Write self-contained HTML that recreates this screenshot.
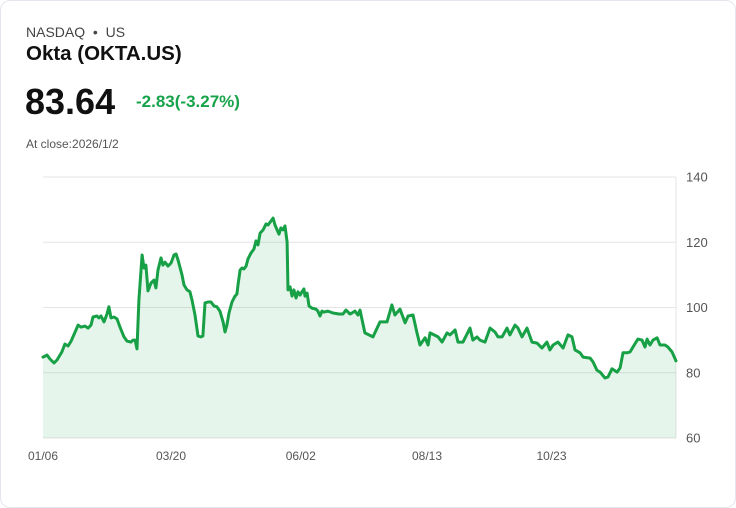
<!DOCTYPE html>
<html><head><meta charset="utf-8"><style>
body{margin:0;width:736px;height:508px;background:#fff;font-family:"Liberation Sans",sans-serif;overflow:hidden}
.card{position:absolute;left:0;top:0;width:734px;height:506px;border:1px solid #e3e6ec;border-radius:10px}
.t{position:absolute;white-space:nowrap}
</style></head><body>
<div class="card">
<div class="t" style="left:25px;top:23px;font-size:14px;color:#444">NASDAQ &nbsp;•&nbsp; US</div>
<div class="t" style="left:25px;top:41px;font-size:20.5px;font-weight:bold;color:#111">Okta (OKTA.US)</div>
<div class="t" style="left:24px;top:80px;font-size:36px;font-weight:bold;color:#111">83.64</div>
<div class="t" style="left:135px;top:91px;font-size:17px;font-weight:bold;color:#16a34a">-2.83(-3.27%)</div>
<div class="t" style="left:25px;top:136px;font-size:12px;color:#555">At close:2026/1/2</div>
<svg id="chart" width="736" height="508" style="position:absolute;left:-1px;top:-1px"></svg>
</div>
<script>
const days=[0,2.3,4,6.3,8,10.8,12.5,14.3,16,18.3,20,21.7,24,25.7,27.4,28.5,30.8,31.9,33.1,34.8,36.5,37.6,38.8,40.5,42.2,43.9,46.2,47.9,50.2,51.3,52.5,53.6,54.7,56.5,57.6,58.7,59.9,61.6,63.3,64.4,65.6,67.3,68.4,69.6,71.3,73,74.7,75.9,77,79.3,80.4,82.1,83.8,85,86.7,88.4,90.1,91.2,92.4,94.1,95.8,97.5,99.2,100.9,102.7,103.8,104.9,106.1,107.8,109.5,110.6,111.2,112.4,113.5,114.6,115.8,116.9,118.6,120.3,121.5,122.6,123.8,125.5,127.2,128.3,130,131.2,132.3,133.5,134.6,135.7,136.9,138,139.2,139.7,140.9,142,143.1,144.3,145.4,146.6,147.7,148.8,149.4,150.6,151.7,153.4,155.7,156.8,158,159.1,160.3,162.5,165.4,168.8,171.1,172.8,175.1,176.2,177.9,179.6,180.8,183.6,188.2,192.2,196.2,199,200.7,203.6,206.5,208.2,211,213.3,215,217.9,219.6,220.7,225.3,227.6,230.4,232.1,235,236.7,239.5,243.5,245.2,247.5,249.2,252.1,254.9,257.8,259.5,261.8,264.6,266.3,269.2,270.9,273.2,276,278.9,281.7,284.6,287.4,289.1,290.9,293.7,296.6,299.4,301.7,303.4,306.3,308,312,313.7,315.9,317.7,320.5,322.2,324.5,327.4,329.1,330.8,333.1,334.8,336.5,339.3,341.6,343.3,344.5,346.2,347.9,350.2,351.9,354.7,356.4,358.7,361];
const prices=[84.8,85.4,84.2,83,83.9,86.4,88.8,88.2,89.7,92.5,94.6,94,94.3,93.7,94.6,97.1,97.4,96.8,97.4,95.6,98,100.2,96.8,97.1,96.5,94,91,89.7,89.4,90,90,87.3,102.3,116.1,112.1,113,105.1,107.5,108.4,106,111.5,115.2,113,113.9,112.7,113.6,116.1,116.4,114.6,110,106.9,105.4,104.8,102.3,97.7,91.3,91,91.3,101.4,101.7,101.7,100.5,100.2,98.9,95.6,92.5,94.6,98.3,101.7,103.5,104.1,106.9,111.5,112.1,111.8,112.7,114.9,116.7,117.9,120.4,119.2,122.8,123.8,125.6,125.3,126.5,127.4,125.3,123.8,122.5,124.4,123.8,125,120.1,105.4,106.3,103.5,105.4,102.9,104.8,103.8,104.8,105.7,103.5,104.4,100.5,99.8,99.5,98.9,97.4,98.9,98.6,98.9,98.3,98,98,99.2,98,98.3,98.9,97.7,99.2,92.2,91,95.6,95.6,100.8,97.7,99.5,95.3,97.4,97.7,92.2,88.5,90.7,88.5,92.2,91,89.4,92.2,91.6,93.1,89.4,89.4,93.7,90,91,90,89.4,93.7,92.5,91,91,93.7,91.6,94.6,93.7,91,93.7,89.4,89.1,87.6,89.4,87,88.5,89.4,87.6,91.6,91,87,86.1,84.8,84.5,83.3,80.8,80.2,78.4,78.7,81.2,80.2,81.5,86.1,86.1,86.4,87.9,90.3,90,87.9,90.3,88.5,90,90.7,88.5,88.5,87.9,86.4,83.64];
const yTicks=[60,80,100,120,140];
const xTickLabels=["01/06","03/20","06/02","08/13","10/23"];
const xTickDays=[0,73,147,219,290];
const NS="http://www.w3.org/2000/svg",svg=document.getElementById('chart');
const X0=43,X1=676,Y0=438,Y1=177,DMAX=361;
const xs=d=>X0+(d/DMAX)*(X1-X0);
const ys=v=>Y0-(v-60)/80*(Y0-Y1);
function mk(t,a){const e=document.createElementNS(NS,t);for(const k in a)e.setAttribute(k,a[k]);svg.appendChild(e);return e;}
yTicks.forEach((v,i)=>{
 const l=mk('line',{x1:X0,x2:X1,y1:ys(v),y2:ys(v),stroke:'#e5e5e5','stroke-width':1});
 
 
 const t=mk('text',{x:686,y:ys(v)+4.5,'font-size':13,fill:'#555','font-family':'Liberation Sans'});
 t.textContent=v;
 
 
});
const ax=mk('line',{x1:X1,x2:X1,y1:Y1,y2:Y0,stroke:'#e5e5e5'});


xTickLabels.forEach((s,i)=>{
 const t=mk('text',{x:xs(xTickDays[i]),y:460,'font-size':12,fill:'#555','text-anchor':'middle','font-family':'Liberation Sans'});
 t.textContent=s;
 
 
});
let d=days.map((dd,i)=>(i?'L':'M')+xs(dd).toFixed(1)+','+ys(prices[i]).toFixed(1)).join('');
const area=mk('path',{d:d+'L'+xs(days[days.length-1])+','+Y0+'L'+xs(0)+','+Y0+'Z',fill:'rgba(22,163,74,0.11)'});


const line=mk('path',{d:d,fill:'none',stroke:'#17a045','stroke-width':3,'stroke-linejoin':'round','stroke-linecap':'round'});


</script>
</body></html>
